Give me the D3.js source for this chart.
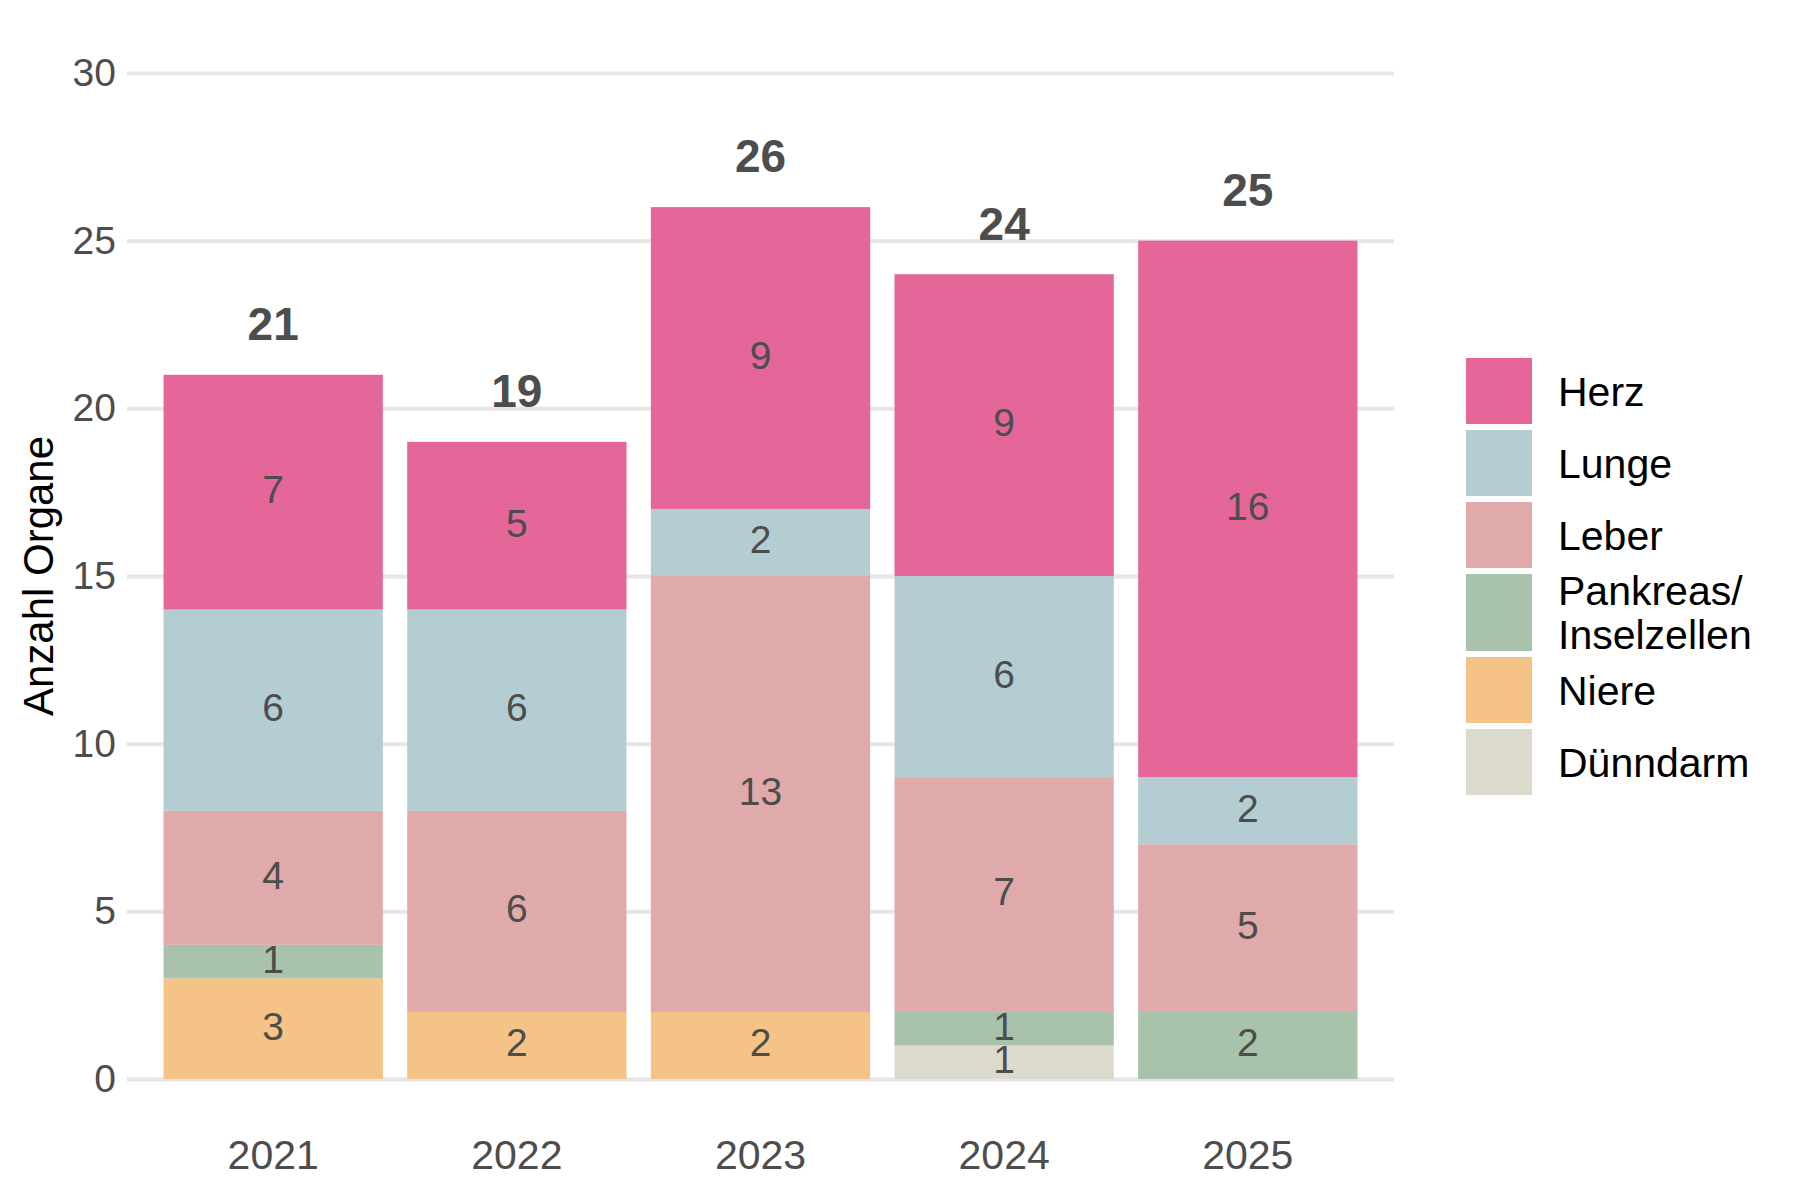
<!DOCTYPE html>
<html>
<head>
<meta charset="utf-8">
<script src="https://cdn.jsdelivr.net/npm/d3@7"></script>
<style>
body { margin: 0; background: #fff; }
text { font-family: "Liberation Sans", Arial, sans-serif; }
</style>
</head>
<body>
<div id="chart"></div>
<script>
// data
var years = ["2021", "2022", "2023", "2024", "2025"];
var organKeys = ["herz", "lunge", "leber", "pankreas", "niere", "duenndarm"];
var organLabels = [["Herz"], ["Lunge"], ["Leber"], ["Pankreas/", "Inselzellen"], ["Niere"], ["Dünndarm"]];
var organColors = ["#E56699", "#B4CDD2", "#E0AAAA", "#A8C2AB", "#F4C385", "#DCDACD"];

var herz      = [7, 5, 9, 9, 16];
var lunge     = [6, 6, 2, 6, 2];
var leber     = [4, 6, 13, 7, 5];
var pankreas  = [1, 0, 0, 1, 2];
var niere     = [3, 2, 2, 0, 0];
var duenndarm = [0, 0, 0, 1, 0];

var yTicks = [0, 5, 10, 15, 20, 25, 30];

var w = 1800;
var h = 1200;
var plotLeft = 127, plotRight = 1394, plotTop = 73, plotBottom = 1079;

var series = { herz: herz, lunge: lunge, leber: leber, pankreas: pankreas, niere: niere, duenndarm: duenndarm };
var rows = years.map(function(y, i) {
	var r = { year: y };
	organKeys.forEach(function(k) { r[k] = series[k][i]; });
	return r;
});
var totals = rows.map(function(r) {
	return d3.sum(organKeys, function(k) { return r[k]; });
});

var color = d3.scaleOrdinal().domain(organKeys).range(organColors);

var svg = d3.select("#chart")
	.append("svg")
	.attr("width", w)
	.attr("height", h)
	.style("background", "#fff");

var xScale = d3.scaleBand()
	.domain(years)
	.range([plotLeft, plotRight])
	.paddingInner(0.1)
	.paddingOuter(0.15);

var yScale = d3.scaleLinear()
	.domain([0, 30])
	.range([plotBottom, plotTop]);

// horizontal grid + y tick labels
var yAxis = svg.append("g")
	.attr("transform", "translate(" + plotLeft + ",0)")
	.call(d3.axisLeft(yScale)
		.tickValues(yTicks)
		.tickSize(-(plotRight - plotLeft))
		.tickPadding(11));
yAxis.select(".domain").remove();
yAxis.selectAll(".tick line")
	.attr("stroke", "#E6E6E6")
	.attr("stroke-width", 4);
yAxis.selectAll(".tick text")
	.attr("fill", "#4D4D4D")
	.style("font-size", "39px")
	.style("font-family", "'Liberation Sans', Arial, sans-serif");

// x labels
var xAxis = svg.append("g")
	.attr("transform", "translate(0," + plotBottom + ")")
	.call(d3.axisBottom(xScale).tickSize(0).tickPadding(61));
xAxis.select(".domain").remove();
xAxis.selectAll(".tick text")
	.attr("fill", "#4D4D4D")
	.style("font-size", "41px")
	.style("font-family", "'Liberation Sans', Arial, sans-serif");

// y title
svg.append("text")
	.attr("transform", "translate(53," + ((plotTop + plotBottom) / 2) + ") rotate(-90)")
	.attr("text-anchor", "middle")
	.attr("fill", "#000")
	.style("font-size", "42px")
	.text("Anzahl Organe");

// stacked bars, bottom to top: Dünndarm ... Herz
var stack = d3.stack().keys(organKeys.slice().reverse());
var layers = stack(rows);

var groups = svg.selectAll("g.layer")
	.data(layers)
	.enter()
	.append("g")
	.attr("class", "layer")
	.attr("fill", function(d) { return color(d.key); });

groups.selectAll("rect")
	.data(function(d) { return d; })
	.enter()
	.append("rect")
	.attr("x", function(d) { return xScale(d.data.year); })
	.attr("y", function(d) { return yScale(d[1]); })
	.attr("width", xScale.bandwidth())
	.attr("height", function(d) { return yScale(d[0]) - yScale(d[1]); });

// segment values
layers.forEach(function(layer) {
	svg.append("g").selectAll("text")
		.data(layer.filter(function(d) { return d[1] - d[0] > 0; }))
		.enter()
		.append("text")
		.attr("x", function(d) { return xScale(d.data.year) + xScale.bandwidth() / 2; })
		.attr("y", function(d) { return yScale((d[0] + d[1]) / 2); })
		.attr("dy", "0.28em")
		.attr("text-anchor", "middle")
		.attr("fill", "#4D4D4D")
		.style("font-size", "39px")
		.text(function(d) { return d[1] - d[0]; });
});

// totals
svg.append("g").selectAll("text")
	.data(totals)
	.enter()
	.append("text")
	.attr("x", function(d, i) { return xScale(years[i]) + xScale.bandwidth() / 2; })
	.attr("y", function(d) { return yScale(d + 1.5); })
	.attr("dy", "0.34em")
	.attr("text-anchor", "middle")
	.attr("fill", "#4D4D4D")
	.style("font-size", "46px")
	.style("font-weight", "bold")
	.text(function(d) { return d; });

// legend
var keyX = 1466, keyW = 66, keyGap = 6, legendTop = 358, lineH = 44.3, legendFs = 41;
var ly = legendTop;
organKeys.forEach(function(k, i) {
	var lines = organLabels[i];
	var kh = keyW + (lines.length - 1) * 11;
	svg.append("rect")
		.attr("x", keyX)
		.attr("y", ly)
		.attr("width", keyW)
		.attr("height", kh)
		.attr("fill", color(k));
	var cy = ly + kh / 2;
	var firstBase = cy + 14.5 - (lines.length - 1) * lineH / 2;
	var t = svg.append("text")
		.attr("fill", "#000")
		.style("font-size", legendFs + "px");
	lines.forEach(function(s, j) {
		t.append("tspan")
			.attr("x", 1558)
			.attr("y", firstBase + j * lineH)
			.text(s);
	});
	ly += kh + keyGap;
});
</script>
</body>
</html>
